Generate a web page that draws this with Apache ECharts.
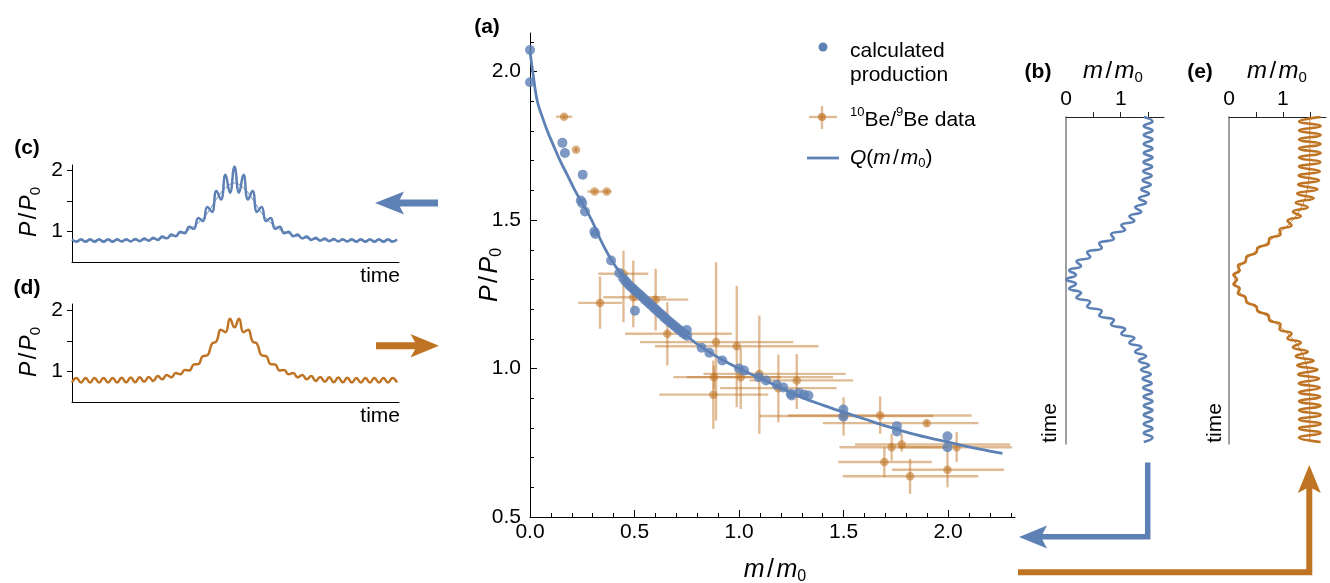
<!DOCTYPE html>
<html><head><meta charset="utf-8">
<script src="https://cdn.jsdelivr.net/npm/echarts@6/dist/echarts.min.js"></script>
<style>html,body{margin:0;padding:0;background:#fff}#c{width:1330px;height:583px}</style>
</head><body><div id="c"></div><script>
// ---------- DATA ----------
// (a) calculated production (blue dots)
const calcX=[0,0,0.155,0.167,0.252,0.243,0.25,0.263,0.308,0.313,0.388,0.427,0.445,0.455,0.465,0.475,0.485,0.495,0.502,0.502,0.51,0.52,0.53,0.54,0.55,0.56,0.57,0.58,0.59,0.6,0.61,0.62,0.63,0.64,0.65,0.66,0.67,0.68,0.69,0.7,0.71,0.72,0.73,0.74,0.75,0.752,0.821,0.858,0.92,1.0,1.024,1.094,1.129,1.18,1.212,1.247,1.252,1.286,1.311,1.332,1.499,1.499,1.755,1.755,1.997,1.997];
const calcY=[2.073,1.964,1.76,1.726,1.653,1.566,1.557,1.529,1.461,1.453,1.364,1.322,1.305,1.296,1.288,1.28,1.274,1.268,1.262,1.195,1.258,1.252,1.246,1.239,1.232,1.226,1.219,1.213,1.206,1.2,1.194,1.187,1.181,1.174,1.168,1.162,1.156,1.15,1.144,1.138,1.132,1.127,1.121,1.116,1.13,1.11,1.07,1.053,1.027,1.0,0.993,0.971,0.96,0.945,0.936,0.915,0.909,0.918,0.912,0.909,0.862,0.838,0.806,0.788,0.772,0.735];
// (a) 10Be/9Be data with error ranges
const beX  =[0.163,0.220,0.309,0.367,0.335,0.447,0.494,0.601,0.657,0.890,0.989,0.880,0.877,1.008,1.097,1.276,1.188,1.500,1.675,1.898,1.730,1.778,2.041,1.695,1.818,1.997];
const beY  =[1.848,1.737,1.596,1.596,1.221,1.319,1.240,1.232,1.117,1.089,1.075,0.971,0.912,0.971,0.982,0.960,0.934,0.840,0.842,0.816,0.735,0.744,0.735,0.685,0.637,0.659];
const beXlo=[0.124,0.212,0.274,0.343,0.231,0.327,0.351,0.494,0.455,0.526,0.598,0.686,0.619,0.750,0.830,1.050,0.909,1.097,1.235,1.400,1.480,1.555,1.762,1.475,1.496,1.731];
const beXhi=[0.202,0.228,0.343,0.391,0.439,0.566,0.651,0.757,0.965,1.260,1.380,1.200,1.140,1.450,1.510,1.546,1.467,1.930,2.113,2.145,2.000,2.297,2.305,1.922,2.145,2.268];
const beYlo=[1.840,1.730,1.588,1.588,1.134,1.156,1.139,1.128,1.010,0.825,0.870,0.930,0.797,0.864,0.780,0.864,0.819,0.774,0.780,0.806,0.690,0.720,0.685,0.634,0.578,0.600];
const beYhi=[1.856,1.744,1.604,1.604,1.310,1.397,1.364,1.336,1.223,1.358,1.279,1.010,1.027,1.070,1.178,1.049,1.047,0.903,0.906,0.826,0.780,0.780,0.786,0.735,0.696,0.730];
// (a) Q(m/m0) curve
const qX=[0,0.013,0.035,0.06,0.083,0.11,0.144,0.18,0.215,0.255,0.295,0.34,0.39,0.44,0.5,0.55,0.6,0.65,0.7,0.75,0.8,0.9,1.0,1.1,1.2,1.3,1.4,1.5,1.6,1.7,1.8,1.9,2.0,2.1,2.2,2.26];
const qY=[2.07,2.0,1.9,1.845,1.8,1.755,1.7,1.65,1.6,1.55,1.5,1.43,1.365,1.315,1.265,1.232,1.2,1.168,1.138,1.11,1.082,1.037,1.0,0.968,0.935,0.903,0.877,0.853,0.83,0.807,0.786,0.768,0.752,0.736,0.722,0.714];
// tick values
const aXMajor=[0,0.5,1,1.5,2];
const aXMinor=[0.1,0.2,0.3,0.4,0.6,0.7,0.8,0.9,1.1,1.2,1.3,1.4,1.6,1.7,1.8,1.9,2.1,2.2,2.3];
const aYMajor=[0.5,1,1.5,2];
const aYMinor=[0.6,0.7,0.8,0.9,1.1,1.2,1.3,1.4,1.6,1.7,1.8,1.9,2.1];
const cdYTicks=[1,1.5,2], cdYLabels=[1,2];
const beTicks=[0.5,1,1.5], beLabels=[0,1];
// (b) m/m0 versus time: successive extremes of the oscillation (time = index)
const bM=[1.42,1.58,1.42,1.58,1.42,1.58,1.42,1.58,1.42,1.58,1.416,1.574,1.41,1.565,1.398,1.548,1.374,1.516,1.332,1.462,1.263,1.375,1.157,1.249,1.010,1.080,0.822,0.876,0.606,0.654,0.385,0.442,0.190,0.275,0.058,0.182,0.010,
  0.182,0.058,0.275,0.190,0.442,0.385,0.654,0.606,0.876,0.822,1.080,1.010,1.249,1.157,1.375,1.263,1.462,1.332,1.516,1.374,1.548,1.398,1.565,1.41,1.574,1.416,1.58,1.42,1.58,1.42,1.58,1.42,1.58,1.42,1.58,1.42];
// (e) m/m0 versus time
const eM=[1.70,1.30,1.70,1.30,1.70,1.30,1.70,1.30,1.70,1.30,1.694,1.298,1.686,1.292,1.672,1.282,1.644,1.266,1.572,1.238,1.463,1.185,1.332,1.084,1.162,0.938,0.957,0.746,0.736,0.529,0.510,0.322,0.310,0.165,0.198,0.082,0.15,
  0.082,0.198,0.165,0.310,0.322,0.510,0.529,0.736,0.746,0.957,0.938,1.162,1.084,1.332,1.185,1.463,1.238,1.572,1.266,1.644,1.282,1.672,1.292,1.686,1.298,1.694,1.30,1.70,1.30,1.70,1.30,1.70,1.30,1.70,1.30,1.70];
// (e) thin mean line, every second time step
const eMean=[1.5,1.5,1.5,1.5,1.5,1.496,1.49,1.478,1.454,1.412,1.343,1.237,1.09,0.902,0.686,0.465,0.28,0.16,0.11,0.16,0.28,0.465,0.686,0.902,1.09,1.237,1.343,1.412,1.454,1.478,1.49,1.496,1.5,1.5,1.5,1.5,1.5];
// (c) P/P0 versus time
const cP=[0.875,0.838,0.875,0.838,0.875,0.838,0.875,0.838,0.875,0.838,0.875,0.839,0.877,0.841,0.881,0.845,0.888,0.853,0.903,0.866,0.921,0.891,0.953,0.925,0.997,0.976,1.08,1.045,1.22,1.17,1.40,1.32,1.66,1.52,1.92,1.63,2.05,
  1.63,1.92,1.52,1.66,1.32,1.40,1.17,1.22,1.045,1.08,0.976,0.997,0.925,0.953,0.891,0.921,0.866,0.903,0.853,0.888,0.845,0.881,0.841,0.877,0.839,0.875,0.838,0.875,0.838,0.875,0.838,0.875,0.838,0.875,0.838,0.875];
const cMean=[0.855,0.855,0.855,0.855,0.855,0.854,0.856,0.859,0.864,0.874,0.892,0.922,0.971,1.036,1.146,1.30,1.53,1.71,1.79,1.71,1.53,1.30,1.146,1.036,0.971,0.922,0.892,0.874,0.864,0.859,0.856,0.854,0.855,0.855,0.855,0.855,0.855];
// (d) P/P0 versus time
const dP=[0.818,0.893,0.818,0.893,0.818,0.893,0.818,0.893,0.818,0.893,0.819,0.895,0.821,0.898,0.824,0.903,0.83,0.91,0.842,0.924,0.871,0.941,0.903,0.973,0.952,1.021,1.015,1.112,1.118,1.25,1.263,1.45,1.49,1.68,1.64,1.86,1.72,
  1.86,1.64,1.68,1.49,1.45,1.263,1.25,1.118,1.112,1.015,1.021,0.952,0.973,0.903,0.941,0.871,0.924,0.842,0.91,0.83,0.903,0.824,0.898,0.821,0.895,0.819,0.893,0.818,0.893,0.818,0.893,0.818,0.893,0.818,0.893,0.818];

// ---------- STYLE ----------
const BLUE='#5E81B5', ORANGE='#BF7424';
const OR_BAR='rgba(191,116,36,0.48)', OR_PT='rgba(191,116,36,0.72)';
const FONT='"Liberation Sans", Arial, sans-serif';
const FS=21;
const mctx=document.createElement('canvas').getContext('2d');
function fstr(size,it,b){return (it?'italic ':'')+(b?'bold ':'')+size+'px '+FONT;}
// segment kinds: i italic, n normal, b bold, sub, sup, sl (slash with side spacing)
function mathText(segs,size,cx,cy,opts){
  opts=opts||{};let x=0;const kids=[];
  for(const [t,k] of segs){
    const small=(k==='sub'||k==='sup');
    const sz=small?Math.round(size*0.64):size;
    const f=fstr(sz,k==='i',k==='b');
    mctx.font=f;const w=mctx.measureText(t).width;
    const pad=k==='sl'?size*0.1:0;
    const dy=k==='sub'?size*0.27:(k==='sup'?-size*0.36:0);
    kids.push({type:'text',x:x+pad,y:dy,style:{text:t,font:f,fill:opts.color||'#000',align:'left',verticalAlign:'middle',textAlign:'left',textVerticalAlign:'middle'}});
    x+=w+2*pad;
  }
  const shift=opts.align==='left'?0:(opts.align==='right'?-x:-x/2);
  kids.forEach(k=>{k.x+=shift;});
  return {type:'group',x:cx,y:cy,rotation:opts.rot||0,silent:true,children:kids};
}
const PP=[['P','i'],['/','sl'],['P','i'],['0','sub']];
const MM=[['m','i'],['/','sl'],['m','i'],['0','sub']];
const R90=Math.PI/2;

const graphics=[
  mathText([['(a)','b']],FS,487,27),
  mathText(MM,25,775,570),
  mathText(PP,25,490,275,{rot:R90}),
  mathText([['(c)','b']],FS,27,148),
  mathText(PP,23,30,212,{rot:R90}),
  mathText([['time','n']],FS,400,276,{align:'right'}),
  mathText([['(d)','b']],FS,27,288),
  mathText(PP,23,30,352,{rot:R90}),
  mathText([['time','n']],FS,400,416,{align:'right'}),
  mathText([['(b)','b']],FS,1038,72),
  mathText(MM,24,1113,71),
  mathText([['time','n']],FS,1050,423,{rot:R90}),
  mathText([['(e)','b']],FS,1200,72),
  mathText(MM,24,1277,71),
  mathText([['time','n']],FS,1215,423,{rot:R90}),
  // legend
  {type:'circle',shape:{cx:823,cy:47,r:4.5},style:{fill:BLUE},silent:true},
  mathText([['calculated','n']],FS,850,51,{align:'left'}),
  mathText([['production','n']],FS,850,75,{align:'left'}),
  {type:'line',shape:{x1:809,y1:117,x2:837,y2:117},style:{stroke:OR_BAR,lineWidth:2.4},silent:true},
  {type:'line',shape:{x1:822,y1:106,x2:822,y2:129},style:{stroke:OR_BAR,lineWidth:2.4},silent:true},
  {type:'circle',shape:{cx:822,cy:117,r:4},style:{fill:OR_PT},silent:true},
  mathText([['10','sup'],['Be/','n'],['9','sup'],['Be data','n']],FS,850,120,{align:'left'}),
  {type:'line',shape:{x1:807,y1:158,x2:839,y2:158},style:{stroke:BLUE,lineWidth:2.8},silent:true},
  mathText([['Q','i'],['(','n'],['m','i'],['/','sl'],['m','i'],['0','sub'],[')','n']],FS,850,158,{align:'left'}),
  // arrows
  {type:'rect',shape:{x:398,y:199.5,width:40,height:7},style:{fill:BLUE},silent:true},
  {type:'polygon',shape:{points:[[375,203],[404,191.5],[398,203],[404,214.5]]},style:{fill:BLUE},silent:true},
  {type:'rect',shape:{x:376,y:342.2,width:42,height:7},style:{fill:ORANGE},silent:true},
  {type:'polygon',shape:{points:[[439,345.7],[410.5,334],[417,345.7],[410.5,357.4]]},style:{fill:ORANGE},silent:true},
  {type:'polyline',shape:{points:[[1147.7,462.5],[1147.7,536.7],[1040,536.7]]},style:{stroke:BLUE,lineWidth:5.5,lineJoin:'miter',lineCap:'butt',fill:null},silent:true},
  {type:'polygon',shape:{points:[[1019,537],[1047,525.5],[1041,537],[1047,548.5]]},style:{fill:BLUE},silent:true},
  {type:'polyline',shape:{points:[[1018,572.3],[1309.3,572.3],[1309.3,486]]},style:{stroke:ORANGE,lineWidth:6,lineJoin:'miter',lineCap:'butt',fill:null},silent:true},
  {type:'polygon',shape:{points:[[1309.3,465],[1297.8,493],[1309.3,487],[1320.8,493]]},style:{fill:ORANGE},silent:true}
];

// ---------- AXES ----------
const lab={fontSize:FS,fontFamily:FONT,color:'#000'};
function base(gi,min,max,extra){return Object.assign({gridIndex:gi,type:'value',min:min,max:max,splitLine:{show:false}},extra);}
const grids=[
  {left:530,top:33,width:485,height:484},   // a
  {left:72,top:165,width:327,height:97.5},  // c
  {left:72,top:304,width:327,height:98},    // d
  {left:1066,top:117,width:98,height:327},  // b
  {left:1229,top:117,width:97,height:327}   // e
];
const xAxes=[
  base(0,0,2.32,{position:'bottom',axisLine:{onZero:false,lineStyle:{color:'#000',width:1}},axisTick:{inside:true,length:7,customValues:aXMajor,lineStyle:{color:'#000'}},axisLabel:Object.assign({customValues:aXMajor,formatter:v=>v.toFixed(1),margin:5},lab)}),
  base(0,0,2.32,{position:'bottom',axisLine:{show:false,onZero:false},axisTick:{inside:true,length:4,customValues:aXMinor,lineStyle:{color:'#000'}},axisLabel:{show:false}}),
  base(1,0,72.45,{position:'bottom',axisLine:{onZero:false,lineStyle:{color:'#000'}},axisTick:{show:false},axisLabel:{show:false}}),
  base(2,0,72.45,{position:'bottom',axisLine:{onZero:false,lineStyle:{color:'#000'}},axisTick:{show:false},axisLabel:{show:false}}),
  base(3,0,1.79,{position:'top',axisLine:{onZero:false,lineStyle:{color:'#222'}},axisTick:{inside:false,length:5,customValues:beTicks,lineStyle:{color:'#222'}},axisLabel:Object.assign({customValues:beLabels,margin:7},lab)}),
  base(4,0,1.8,{position:'top',axisLine:{onZero:false,lineStyle:{color:'#222'}},axisTick:{inside:false,length:5,customValues:beTicks,lineStyle:{color:'#222'}},axisLabel:Object.assign({customValues:beLabels,margin:7},lab)})
];
const yAxes=[
  base(0,0.5,2.13,{position:'left',axisLine:{onZero:false,lineStyle:{color:'#000',width:1}},axisTick:{inside:true,length:7,customValues:aYMajor,lineStyle:{color:'#000'}},axisLabel:Object.assign({customValues:aYMajor,formatter:v=>v.toFixed(1),margin:9},lab)}),
  base(0,0.5,2.13,{position:'left',axisLine:{show:false,onZero:false},axisTick:{inside:true,length:4,customValues:aYMinor,lineStyle:{color:'#000'}},axisLabel:{show:false}}),
  base(1,0.5,2.08,{position:'left',axisLine:{onZero:false,lineStyle:{color:'#000'}},axisTick:{inside:false,length:5,customValues:cdYTicks,lineStyle:{color:'#000'}},axisLabel:Object.assign({customValues:cdYLabels,margin:9},lab)}),
  base(2,0.5,2.1,{position:'left',axisLine:{onZero:false,lineStyle:{color:'#000'}},axisTick:{inside:false,length:5,customValues:cdYTicks,lineStyle:{color:'#000'}},axisLabel:Object.assign({customValues:cdYLabels,margin:9},lab)}),
  base(3,0,72.45,{position:'left',inverse:true,axisLine:{onZero:false,lineStyle:{color:'#808080',width:1.5}},axisTick:{show:false},axisLabel:{show:false}}),
  base(4,0,72.45,{position:'left',inverse:true,axisLine:{onZero:false,lineStyle:{color:'#808080',width:1.5}},axisTick:{show:false},axisLabel:{show:false}})
];

// ---------- SERIES ----------
const beData=beX.map((x,i)=>[x,beY[i],beXlo[i],beXhi[i],beYlo[i],beYhi[i]]);
const series=[
  {type:'custom',xAxisIndex:0,yAxisIndex:0,data:beData,encode:{x:0,y:1},z:1,silent:true,
   renderItem:function(p,api){
     const x=api.value(0),y=api.value(1);
     const a=api.coord([api.value(2),y]),b=api.coord([api.value(3),y]);
     const c=api.coord([x,api.value(4)]),d=api.coord([x,api.value(5)]);
     return {type:'group',children:[
       {type:'line',shape:{x1:a[0],y1:a[1],x2:b[0],y2:b[1]},style:{stroke:OR_BAR,lineWidth:2.4}},
       {type:'line',shape:{x1:c[0],y1:c[1],x2:d[0],y2:d[1]},style:{stroke:OR_BAR,lineWidth:2.4}}
     ]};
   }},
  {type:'scatter',xAxisIndex:0,yAxisIndex:0,data:beX.map((x,i)=>[x,beY[i]]),symbolSize:8.5,itemStyle:{color:OR_PT},z:2,silent:true},
  {type:'line',xAxisIndex:0,yAxisIndex:0,data:qX.map((x,i)=>[x,qY[i]]),smooth:0.4,showSymbol:false,lineStyle:{color:BLUE,width:2.8},z:3,silent:true},
  {type:'scatter',xAxisIndex:0,yAxisIndex:0,data:calcX.map((x,i)=>[x,calcY[i]]),symbolSize:10,itemStyle:{color:BLUE},z:4,silent:true,clip:false},
  {type:'line',xAxisIndex:2,yAxisIndex:2,data:cMean.map((v,i)=>[2*i,v]),smooth:0.4,showSymbol:false,lineStyle:{color:BLUE,width:0.9},silent:true},
  {type:'line',xAxisIndex:2,yAxisIndex:2,data:cP.map((v,i)=>[i,v]),smooth:0.5,showSymbol:false,lineStyle:{color:BLUE,width:2.5},silent:true},
  {type:'line',xAxisIndex:3,yAxisIndex:3,data:dP.map((v,i)=>[i,v]),smooth:0.5,showSymbol:false,lineStyle:{color:ORANGE,width:2.5},silent:true},
  {type:'line',xAxisIndex:4,yAxisIndex:4,data:bM.map((v,i)=>[v,i]),smooth:0.5,showSymbol:false,lineStyle:{color:BLUE,width:2.6},silent:true},
  {type:'line',xAxisIndex:5,yAxisIndex:5,data:eMean.map((v,i)=>[v,2*i]),smooth:0.4,showSymbol:false,lineStyle:{color:ORANGE,width:0.9},silent:true},
  {type:'line',xAxisIndex:5,yAxisIndex:5,data:eM.map((v,i)=>[v,i]),smooth:0.5,showSymbol:false,lineStyle:{color:ORANGE,width:2.5},silent:true}
];

const chart=echarts.init(document.getElementById('c'),null,{renderer:'canvas'});
chart.setOption({animation:false,backgroundColor:'#fff',grid:grids,xAxis:xAxes,yAxis:yAxes,series:series,graphic:{elements:graphics}});
</script></body></html>
